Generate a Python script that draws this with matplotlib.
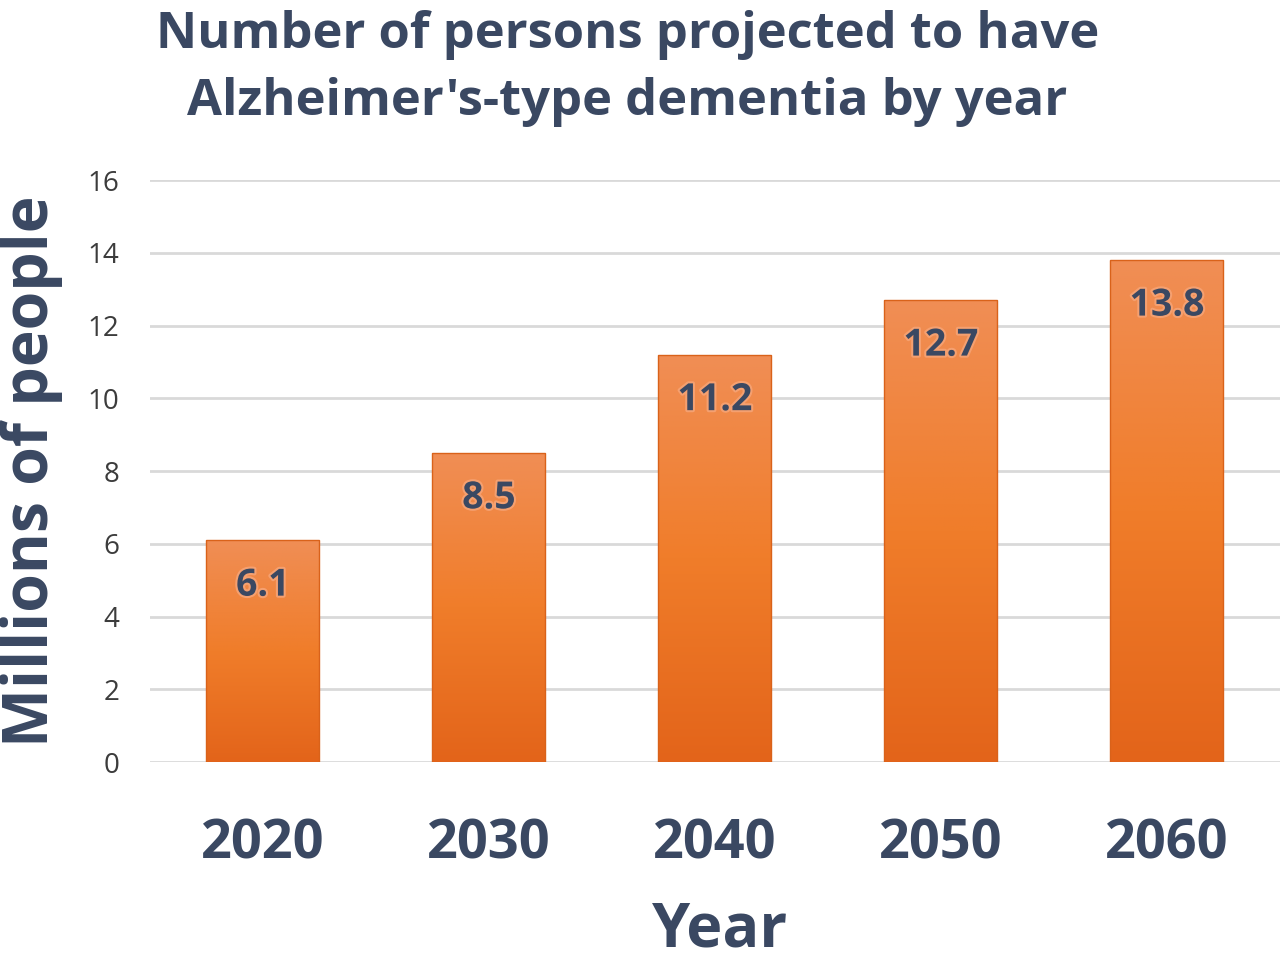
import numpy as np
import matplotlib
matplotlib.use("Agg")
import matplotlib.pyplot as plt
import matplotlib.patheffects as pe
from matplotlib.colors import LinearSegmentedColormap

years = ["2020", "2030", "2040", "2050", "2060"]
values = [6.1, 8.5, 11.2, 12.7, 13.8]
yticks = [0, 2, 4, 6, 8, 10, 12, 14, 16]

DARK = "#3a4862"
FONT = ["Open Sans", "DejaVu Sans"]

fig = plt.figure(figsize=(12.8, 9.61), dpi=100)
ax = fig.add_axes([0.117, 0.207, 0.883, 0.6056])

x = np.arange(len(years))
width = 0.5
bars = ax.bar(x, values, width=width, color="none", edgecolor="#d9621a", linewidth=1.0, zorder=3)

cmap = LinearSegmentedColormap.from_list("og", ["#e3641a", "#f07d2a", "#f08e55"])
grad = np.linspace(0, 1, 256).reshape(-1, 1)
for b in bars:
    x0, y0 = b.get_x(), b.get_y()
    w, h = b.get_width(), b.get_height()
    im = ax.imshow(grad, cmap=cmap, origin="lower", aspect="auto",
                   extent=[x0, x0 + w, y0, y0 + h], zorder=2)
    im.set_clip_path(b)

for xi, v in zip(x, values):
    ax.text(xi, v - 1.25, f"{v}", ha="center", va="center", fontsize=27,
            fontweight="bold", color=DARK, family=FONT, zorder=5,
            path_effects=[pe.withStroke(linewidth=3, foreground="#f5a070")])

ax.set_xlim(-0.5, 4.5)
ax.set_ylim(0, 16)
ax.set_yticks(yticks)
ax.set_yticklabels([str(t) for t in yticks], fontsize=20, color="#3c3c3c", family=FONT)
ax.set_xticks(x)
ax.set_xticklabels(years, fontsize=39, fontweight="bold", color=DARK, family=FONT)
ax.tick_params(axis="both", length=0)
ax.tick_params(axis="y", pad=22)
ax.tick_params(axis="x", pad=40)
ax.grid(axis="y", color="#d9d9d9", linewidth=2, zorder=0)
ax.set_axisbelow(True)
for s in ax.spines.values():
    s.set_visible(False)

ax.set_ylabel("Millions of people", fontsize=45, fontweight="bold", color=DARK, family=FONT)
ax.yaxis.set_label_coords(-0.077, 0.5)
ax.set_xlabel("Year", fontsize=44, fontweight="bold", color=DARK, family=FONT)
ax.xaxis.set_label_coords(0.505, -0.238)

fig.text(0.49, 0.99, "Number of persons projected to have\nAlzheimer's-type dementia by year",
         ha="center", va="top", fontsize=36.5, fontweight="bold", color=DARK, family=FONT,
         linespacing=1.47)

fig.savefig("out.png", dpi=100)
